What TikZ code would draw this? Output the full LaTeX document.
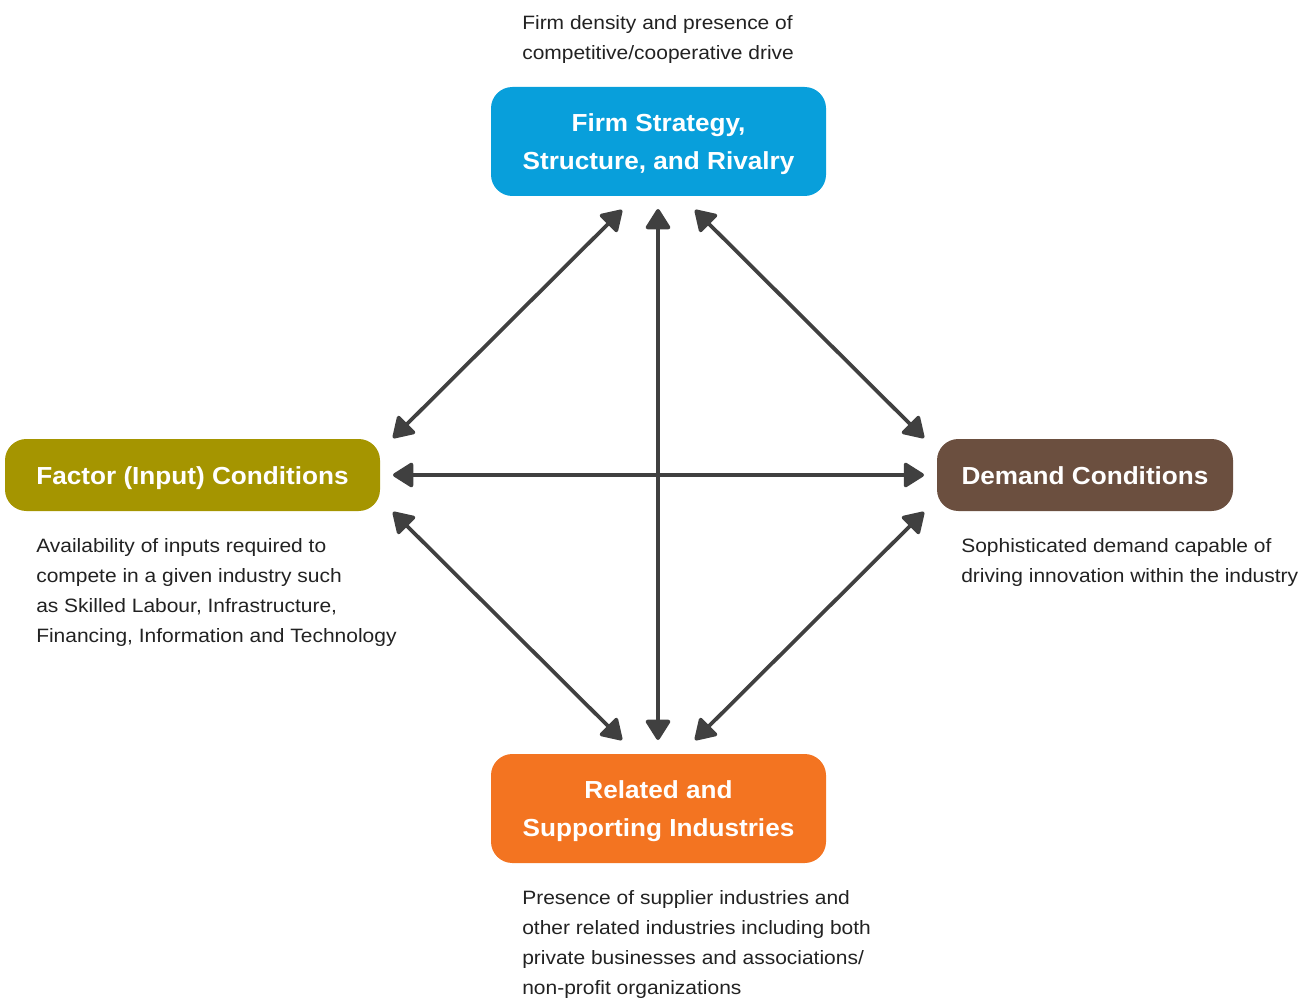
\documentclass[tikz,border=0pt]{standalone}
\usepackage{fontspec}
\setmainfont{Liberation Sans}
\newfontfamily\capfont[FakeStretch=1.085]{Liberation Sans}
\newfontfamily\titlefont[FakeStretch=1.06]{Liberation Sans}
\usetikzlibrary{arrows.meta}
\definecolor{firmblue}{HTML}{089FDB}
\definecolor{factorolive}{HTML}{A59500}
\definecolor{demandbrown}{HTML}{6B4F3F}
\definecolor{relatedorange}{HTML}{F37421}
\definecolor{arrowgray}{HTML}{404040}
\definecolor{textgray}{HTML}{222222}
\begin{document}
\begin{tikzpicture}[x=0.75pt,y=-0.75pt,
  box/.style={rounded corners=16pt, inner sep=0pt},
  titletext/.style={inner sep=0pt, text=white,
    font=\titlefont\bfseries\fontsize{18.5}{28.5}\selectfont, align=center},
  captext/.style={anchor=north west, inner sep=0pt, align=left,
    font=\capfont\fontsize{14.5}{22.5}\selectfont, text=textgray},
  link/.style={draw=arrowgray, line width=2.8pt,
    {Triangle[length=16.5pt,width=20pt,round]}-{Triangle[length=16.5pt,width=20pt,round]}}]
\useasboundingbox (0,0) rectangle (1308,998);

% boxes
\node[box, fill=firmblue, minimum width=251.25pt, minimum height=81.75pt] (firm) at (658.5,141.5) {};
\node[box, fill=factorolive, minimum width=281.25pt, minimum height=54pt] (factor) at (192.5,475) {};
\node[box, fill=demandbrown, minimum width=222pt, minimum height=54pt] (demand) at (1085,475) {};
\node[box, fill=relatedorange, minimum width=251.25pt, minimum height=81.75pt] (related) at (658.5,808.5) {};

% titles
\node[titletext] (firmtitle) at ([yshift=-1.8pt]firm.center) {Firm Strategy,\\Structure, and Rivalry};
\node[titletext] (factortitle) at ([yshift=-2.2pt]factor.center) {Factor (Input) Conditions};
\node[titletext] (demandtitle) at ([yshift=-0.8pt]demand.center) {Demand Conditions};
\node[titletext] (relatedtitle) at ([yshift=-1.8pt]related.center) {Related and\\Supporting Industries};

% captions
\node[captext] (firmcap) at (522,15.5) {Firm density and presence of\\competitive/cooperative drive};
\node[captext] (factorcap) at (36,538.5) {Availability of inputs required to\\compete in a given industry such\\as Skilled Labour, Infrastructure,\\Financing, Information and Technology};
\node[captext] (demandcap) at (961,538.5) {Sophisticated demand capable of\\driving innovation within the industry};
\node[captext] (relatedcap) at (522,890.5) {Presence of supplier industries and\\other related industries including both\\private businesses and associations/\\non-profit organizations};

% arrow end points
\coordinate (fL) at (622,210);
\coordinate (fC) at (658,209);
\coordinate (fR) at (695,210);
\coordinate (aT) at (393,438);
\coordinate (aM) at (393,475);
\coordinate (aB) at (393,512);
\coordinate (dT) at (924,438);
\coordinate (dM) at (924,475);
\coordinate (dB) at (924,512);
\coordinate (rL) at (622,740);
\coordinate (rC) at (658,740);
\coordinate (rR) at (695,740);

\draw[link] (fL) -- (aT);
\draw[link] (fC) -- (rC);
\draw[link] (fR) -- (dT);
\draw[link] (aM) -- (dM);
\draw[link] (aB) -- (rL);
\draw[link] (dB) -- (rR);
\end{tikzpicture}
\end{document}
